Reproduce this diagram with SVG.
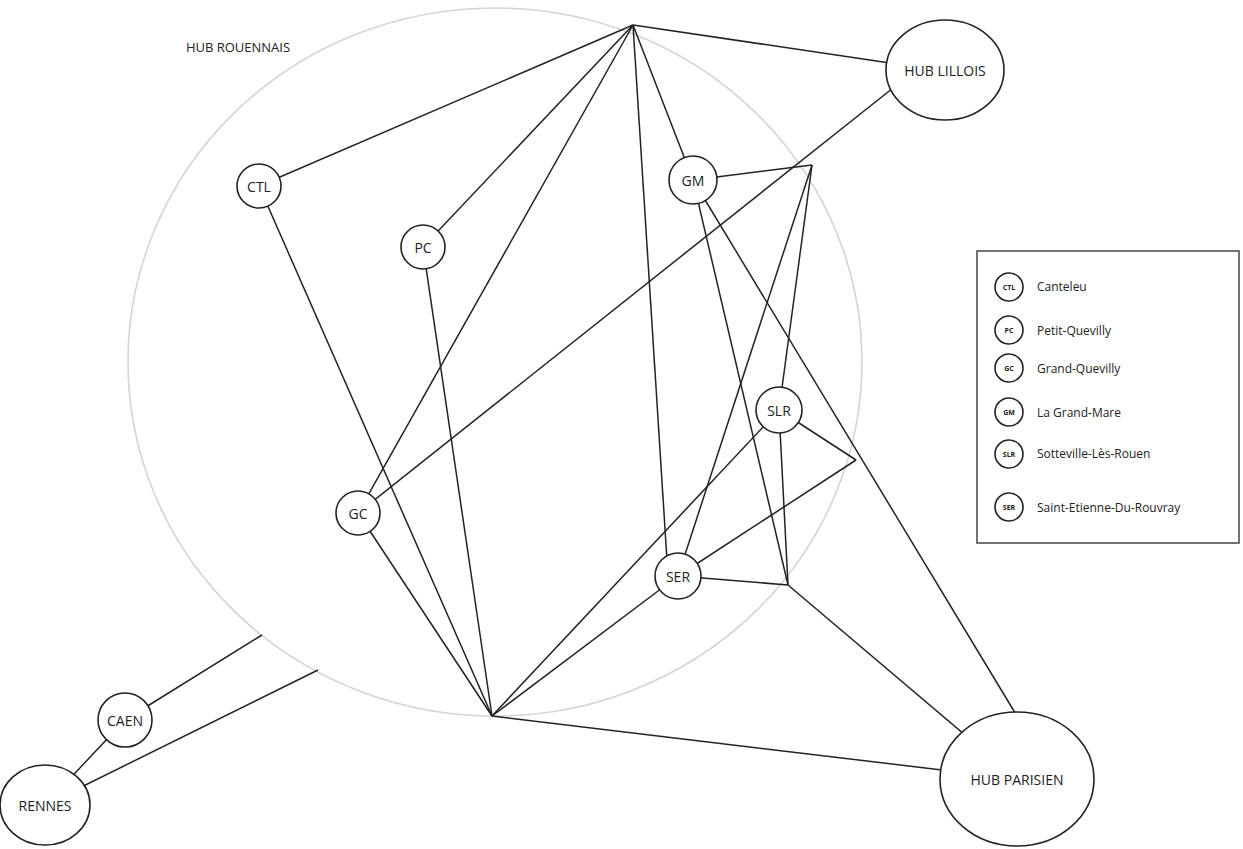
<svg xmlns="http://www.w3.org/2000/svg" width="1243" height="849" viewBox="0 0 1243 849">
<style>
.n{fill:#fff;stroke:#222;stroke-width:1.6}
.t{font-family:"Open Sans","Liberation Sans",sans-serif;font-size:14px;fill:#222;text-anchor:middle;dominant-baseline:central}
.s{font-family:"Open Sans","Liberation Sans",sans-serif;font-size:7px;font-weight:bold;fill:#222;text-anchor:middle;dominant-baseline:central}
.l{font-family:"Open Sans","Liberation Sans",sans-serif;font-size:12px;fill:#222;dominant-baseline:central}
#edges line{stroke:#222;stroke-width:1.5}
</style>
<rect width="1243" height="849" fill="#fff"/>
<ellipse cx="495" cy="362" rx="367" ry="354" fill="none" stroke="#d4d4d4" stroke-width="1.6"/>
<text x="238" y="47" class="t" style="font-size:13px">HUB ROUENNAIS</text>
<g id="edges">
<line x1="633" y1="25" x2="890" y2="63"/>
<line x1="633" y1="25" x2="259" y2="186"/>
<line x1="633" y1="25" x2="423" y2="247"/>
<line x1="633" y1="25" x2="358" y2="513"/>
<line x1="633" y1="25" x2="693" y2="180"/>
<line x1="633" y1="25" x2="668" y2="576"/>
<line x1="492" y1="716" x2="259" y2="186"/>
<line x1="492" y1="716" x2="423" y2="247"/>
<line x1="492" y1="716" x2="358" y2="513"/>
<line x1="492" y1="716" x2="779" y2="410"/>
<line x1="492" y1="716" x2="678" y2="576"/>
<line x1="492" y1="716" x2="1017" y2="779"/>
<line x1="358" y1="513" x2="893" y2="88"/>
<line x1="812" y1="165" x2="693" y2="180"/>
<line x1="812" y1="165" x2="678" y2="576"/>
<line x1="812" y1="165" x2="779" y2="410"/>
<line x1="693" y1="180" x2="1017" y2="716"/>
<line x1="693" y1="180" x2="788" y2="585"/>
<line x1="779" y1="410" x2="788" y2="585"/>
<line x1="779" y1="410" x2="856" y2="460"/>
<line x1="678" y1="576" x2="856" y2="460"/>
<line x1="678" y1="576" x2="788" y2="585"/>
<line x1="788" y1="585" x2="1017" y2="779"/>
<line x1="125" y1="720" x2="262" y2="635"/>
<line x1="45" y1="805" x2="318" y2="670"/>
<line x1="125" y1="720" x2="45" y2="805"/>
</g>
<g id="CTL"><circle class="n" cx="259" cy="186" r="22"/><text class="t" x="259" y="186">CTL</text></g>
<g id="PC"><circle class="n" cx="423" cy="247" r="22"/><text class="t" x="423" y="247">PC</text></g>
<g id="GC"><circle class="n" cx="358" cy="513" r="22"/><text class="t" x="358" y="513">GC</text></g>
<g id="GM"><circle class="n" cx="693" cy="180" r="24"/><text class="t" x="693" y="180">GM</text></g>
<g id="SLR"><circle class="n" cx="779" cy="410" r="23"/><text class="t" x="779" y="410">SLR</text></g>
<g id="SER"><circle class="n" cx="678" cy="576" r="23"/><text class="t" x="678" y="576">SER</text></g>
<g id="HUB_LILLOIS"><ellipse class="n" cx="945" cy="70" rx="59" ry="50"/><text class="t" x="945" y="70">HUB LILLOIS</text></g>
<g id="HUB_PARISIEN"><ellipse class="n" cx="1017" cy="779" rx="77" ry="67"/><text class="t" x="1017" y="779">HUB PARISIEN</text></g>
<g id="CAEN"><circle class="n" cx="125" cy="720" r="27"/><text class="t" x="125" y="720">CAEN</text></g>
<g id="RENNES"><ellipse class="n" cx="45" cy="805" rx="45" ry="40"/><text class="t" x="45" y="805">RENNES</text></g>
<g id="legend">
<rect x="977" y="251" width="262" height="292" fill="#fff" stroke="#444" stroke-width="1.5"/>
<circle class="n" cx="1009" cy="287" r="14"/><text class="s" x="1009" y="287">CTL</text><text class="l" x="1037" y="286">Canteleu</text>
<circle class="n" cx="1009" cy="330" r="14"/><text class="s" x="1009" y="330">PC</text><text class="l" x="1037" y="330">Petit-Quevilly</text>
<circle class="n" cx="1009" cy="368" r="14"/><text class="s" x="1009" y="368">GC</text><text class="l" x="1037" y="368">Grand-Quevilly</text>
<circle class="n" cx="1009" cy="412" r="14"/><text class="s" x="1009" y="412">GM</text><text class="l" x="1037" y="412">La Grand-Mare</text>
<circle class="n" cx="1009" cy="454" r="14"/><text class="s" x="1009" y="454">SLR</text><text class="l" x="1037" y="453">Sotteville-Lès-Rouen</text>
<circle class="n" cx="1009" cy="507" r="14"/><text class="s" x="1009" y="507">SER</text><text class="l" x="1037" y="507">Saint-Etienne-Du-Rouvray</text>
</g>
</svg>
